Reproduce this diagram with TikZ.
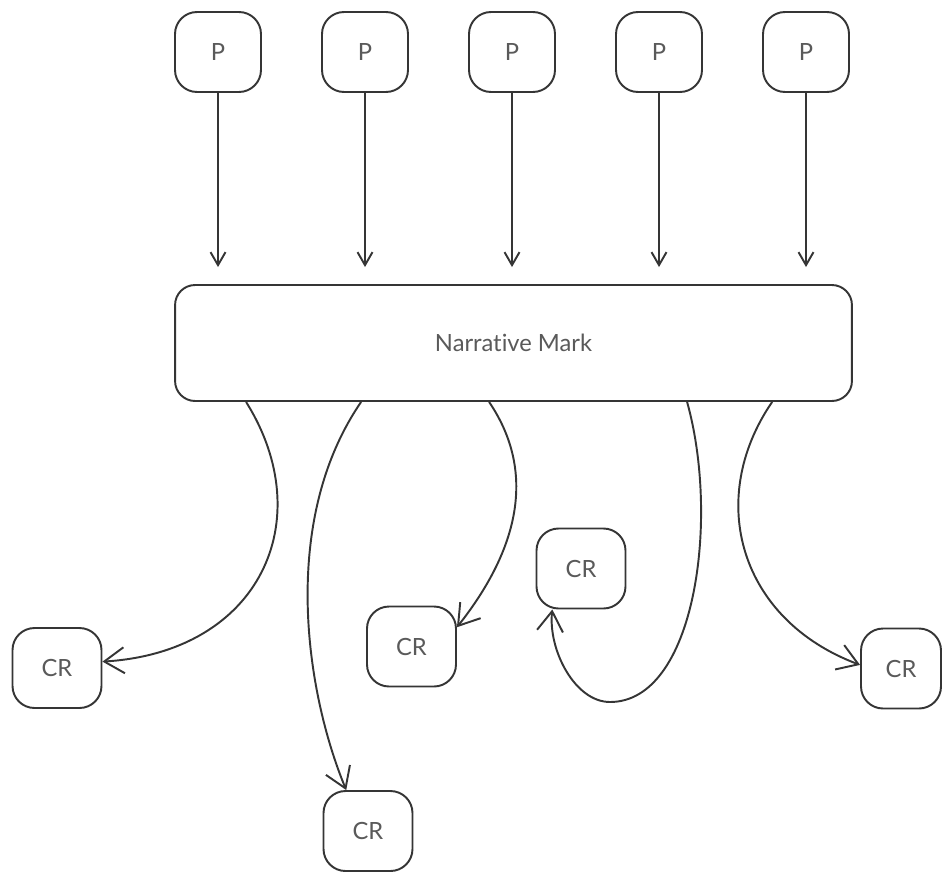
\documentclass[tikz,border=0pt]{standalone}
\usepackage{fontspec}
\setmainfont{Lato}[Ligatures={NoCommon}]
\usetikzlibrary{arrows.meta,calc}

\definecolor{ink}{HTML}{353535}
\definecolor{label}{HTML}{5A5A5A}

\tikzset{
  box/.style={draw=ink, line width=1.1pt, fill=white, rounded corners=0.44cm,
    inner sep=0pt, text=label, font=\fontsize{13.5}{15}\selectfont},
  pbox/.style={box, minimum width=1.72cm, minimum height=1.6cm},
  crbox/.style={box, minimum width=1.78cm, minimum height=1.6cm},
  markbox/.style={box, rounded corners=0.4cm, minimum width=13.54cm, minimum height=2.32cm},
  feed/.style={draw=ink, line width=1.1pt,
    -{Straight Barb[length=0.26cm, width=0.3cm, line width=1.1pt]}, shorten >=0.34cm},
  link/.style={draw=ink, line width=1.1pt,
    -{Straight Barb[length=0.4cm, width=0.52cm, line width=1.1pt]}}
}

\begin{document}
\begin{tikzpicture}[x=0.02cm, y=-0.02cm]
  \useasboundingbox (0,0) rectangle (942,872);

  % inputs
  \node[pbox] (p1) at (218,52) {P};
  \node[pbox] (p2) at (365,52) {P};
  \node[pbox] (p3) at (512,52) {P};
  \node[pbox] (p4) at (659,52) {P};
  \node[pbox] (p5) at (806,52) {P};

  % central mark
  \node[markbox] (nm) at (513.5,343) {Narrative Mark};

  % outputs
  \node[crbox] (cr1) at (57,668) {CR};
  \node[crbox] (cr2) at (368,831) {CR};
  \node[crbox] (cr3) at (411.5,646.5) {CR};
  \node[crbox] (cr4) at (581,568.5) {CR};
  \node[crbox, minimum width=1.6cm] (cr5) at (901,668.5) {CR};

  % inputs feeding the mark
  \foreach \i in {1,...,5}
    \draw[feed] (p\i.south) -- (p\i.south |- nm.north);

  % departure points on the lower edge of the mark
  \coordinate (o1) at ($(nm.south west)+(72,0)$);
  \coordinate (o2) at ($(nm.south west)+(187,0)$);
  \coordinate (o3) at ($(nm.south west)+(315,0)$);
  \coordinate (o4) at ($(nm.south west)+(513,0)$);
  \coordinate (o5) at ($(nm.south west)+(598,0)$);

  % links to the outputs
  \draw[link] (o1) .. controls (320,520) and (260,652) .. (cr1.8);
  \draw[link] (o2) .. controls (280,520) and (305,690) .. (cr2.118);
  \draw[link] (o3) .. controls (542,480) and (510,560) .. (cr3.23);
  \draw[link] (o4) .. controls (720,520) and (695,702) .. (610,702)
                   .. controls (575,702) and (548,650) .. (cr4.235);
  \draw[link] (o5) .. controls (705,500) and (740,620) .. (cr5.175);
\end{tikzpicture}
\end{document}
